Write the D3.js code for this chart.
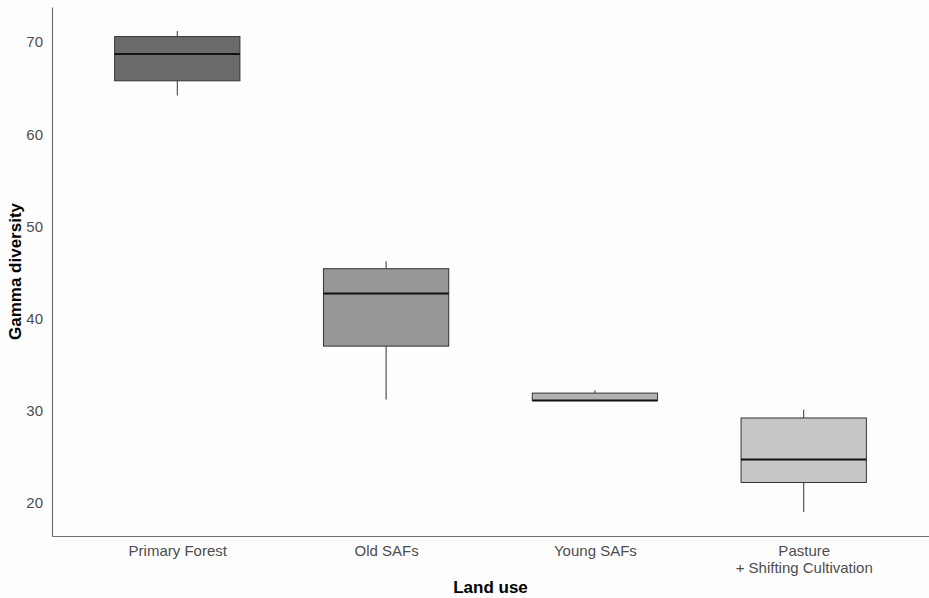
<!DOCTYPE html>
<html>
<head>
<meta charset="utf-8">
<script src="https://cdn.jsdelivr.net/npm/d3@7"></script>
<style>
  body { margin: 0; background: #fdfdfd; }
  svg { display: block; font-family: "Liberation Sans", Arial, sans-serif; }
</style>
</head>
<body>
<svg id="chart" width="929" height="598"></svg>
<script>
// land use categories and their box stats
const categories = ["Primary Forest", "Old SAFs", "Young SAFs", "Pasture\n+ Shifting Cultivation"];
const mins    = [64.2, 31.2, 31.0, 19.0];
const q1s     = [65.8, 37.0, 31.1, 22.2];
const medians = [68.7, 42.7, 31.1, 24.7];
const q3s     = [70.6, 45.4, 31.9, 29.2];
const maxs    = [71.2, 46.2, 32.2, 30.1];
const fills   = ["#6b6b6b", "#979797", "#b3b3b3", "#c7c7c7"];
const yTicks  = [20, 30, 40, 50, 60, 70];

const plotLeft = 52, plotRight = 929, plotTop = 7, plotBottom = 536;

const svg = d3.select("#chart");

// ggplot-style discrete expansion: 0.6 units on each side
const xScale = d3.scalePoint()
  .domain(categories)
  .range([plotLeft, plotRight])
  .padding(0.6);
const boxW = xScale.step() * 0.6;

const lo = d3.min(mins), hi = d3.max(maxs), pad = (hi - lo) * 0.05;
const yScale = d3.scaleLinear()
  .domain([lo - pad, hi + pad])
  .range([plotBottom, plotTop]);

//axes
const yAxis = d3.axisLeft(yScale).tickValues(yTicks).tickSize(0).tickPadding(9);
const gy = svg.append("g")
  .attr("transform", "translate(" + plotLeft + ",0)")
  .call(yAxis);
gy.select(".domain").attr("stroke", "#6e6e6e").attr("stroke-width", 1.2);
gy.selectAll("text").attr("fill", "#4d4d4d").style("font-size", "15px");

const xAxis = d3.axisBottom(xScale).tickSize(0).tickPadding(9).tickFormat("");
const gx = svg.append("g")
  .attr("transform", "translate(0," + plotBottom + ")")
  .call(xAxis);
gx.select(".domain").attr("stroke", "#6e6e6e").attr("stroke-width", 1.2);
gx.selectAll(".tick").each(function(d) {
  const t = d3.select(this).append("text")
    .attr("fill", "#4d4d4d")
    .attr("text-anchor", "middle")
    .style("font-size", "15px")
    .attr("y", 20);
  d.split("\n").forEach((line, i) => {
    t.append("tspan").attr("x", 0).attr("dy", i ? 16.5 : 0).text(line);
  });
});

// boxes
const g = svg.append("g");
categories.forEach((c, i) => {
  const cx = xScale(c);
  g.append("line")
    .attr("x1", cx).attr("x2", cx)
    .attr("y1", yScale(maxs[i])).attr("y2", yScale(mins[i]))
    .attr("stroke", "#333").attr("stroke-width", 1);
  g.append("rect")
    .attr("x", cx - boxW / 2).attr("width", boxW)
    .attr("y", yScale(q3s[i]))
    .attr("height", yScale(q1s[i]) - yScale(q3s[i]))
    .attr("fill", fills[i])
    .attr("stroke", "#333").attr("stroke-width", 1);
  g.append("line")
    .attr("x1", cx - boxW / 2).attr("x2", cx + boxW / 2)
    .attr("y1", yScale(medians[i])).attr("y2", yScale(medians[i]))
    .attr("stroke", "#111").attr("stroke-width", 2);
});

// axis titles
svg.append("text")
  .attr("x", (plotLeft + plotRight) / 2).attr("y", 593)
  .attr("text-anchor", "middle")
  .style("font-size", "17px").style("font-weight", "bold")
  .text("Land use");

svg.append("text")
  .attr("transform", "translate(21," + (plotTop + plotBottom) / 2 + ") rotate(-90)")
  .attr("text-anchor", "middle")
  .style("font-size", "17px").style("font-weight", "bold")
  .text("Gamma diversity");
</script>
</body>
</html>
